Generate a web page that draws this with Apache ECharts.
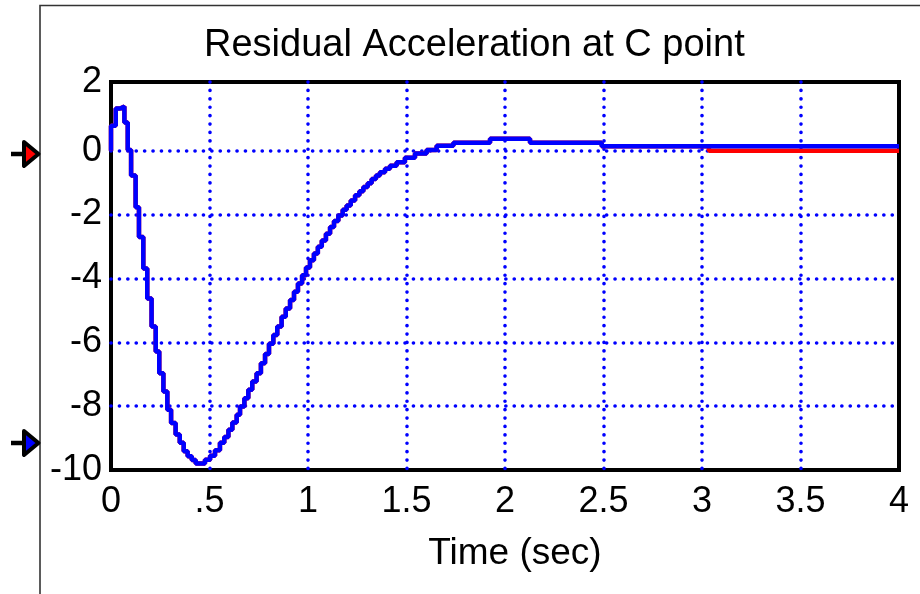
<!DOCTYPE html>
<html><head><meta charset="utf-8">
<script src="https://cdn.jsdelivr.net/npm/echarts@6/dist/echarts.min.js"></script>
<style>html,body{margin:0;padding:0;background:#fff}#c{width:920px;height:594px}</style>
</head><body><div id="c"></div>
<script>
const titleText = 'Residual Acceleration at C point';
const xName = 'Time (sec)';
const xTicks = [0, 0.5, 1, 1.5, 2, 2.5, 3, 3.5, 4];
const xTickLabels = ['0', '.5', '1', '1.5', '2', '2.5', '3', '3.5', '4'];
const yTicks = [-10, -8, -6, -4, -2, 0, 2];
const yTickLabels = ['-10', '-8', '-6', '-4', '-2', '0', '2'];

// blue signal (zero-order hold steps)
const times = [0, 0, 0.024, 0.046, 0.068, 0.085, 0.102, 0.125, 0.142, 0.164, 0.184,
  0.206, 0.227, 0.245, 0.266, 0.286, 0.305, 0.328, 0.349, 0.369, 0.389,
  0.410, 0.430, 0.477, 0.503, 0.528, 0.553, 0.575, 0.596, 0.616, 0.638,
  0.655, 0.677, 0.697, 0.717, 0.739, 0.761, 0.782, 0.802, 0.824, 0.844,
  0.866, 0.887, 0.909, 0.929, 0.949, 0.970, 0.990, 1.010, 1.030, 1.050,
  1.070, 1.091, 1.112, 1.132, 1.154, 1.176, 1.196, 1.217, 1.239, 1.261,
  1.281, 1.303, 1.323, 1.345, 1.365, 1.391, 1.416, 1.450, 1.492, 1.543,
  1.602, 1.653, 1.738, 1.924, 2.127, 2.491, 4.000];
const accel = [0, 0.78, 1.32, 1.38, 0.88, 0.02, -0.78, -1.77, -2.70, -3.69, -4.63,
  -5.51, -6.29, -6.97, -7.54, -8.11, -8.53, -8.89, -9.15, -9.41, -9.57,
  -9.69, -9.80, -9.68, -9.55, -9.38, -9.15, -8.97, -8.74, -8.51, -8.27,
  -8.01, -7.75, -7.49, -7.23, -6.97, -6.66, -6.37, -6.05, -5.77, -5.51,
  -5.20, -4.94, -4.68, -4.42, -4.16, -3.90, -3.66, -3.43, -3.22, -3.01,
  -2.81, -2.60, -2.39, -2.20, -2.03, -1.85, -1.72, -1.56, -1.40, -1.27,
  -1.14, -1.02, -0.89, -0.78, -0.68, -0.57, -0.47, -0.36, -0.22, -0.09,
  0.02, 0.15, 0.25, 0.37, 0.25, 0.14, 0.14];
// red signal: follows the blue one, then drops to this value
const redSwitchTime = 3.035;
const redAfter = 0;

const blueData = times.map((t, i) => [t, accel[i]]);
const redData = times.filter(t => t < redSwitchTime).map((t, i) => [t, accel[i]]);
redData.push([redSwitchTime, redAfter], [times[times.length - 1], redAfter]);

const FONT = 'Liberation Sans, Arial, sans-serif';
const dotStyle = { width: 3.6, type: [0.1, 8.3], cap: 'round' };
const B = '#0000ff';

const chart = echarts.init(document.getElementById('c'), null, { renderer: 'canvas' });
chart.setOption({
  animation: false,
  backgroundColor: '#fff',
  title: {
    text: titleText, left: 199, top: 22,
    textStyle: { fontSize: 38, fontWeight: 'normal', fontFamily: FONT, color: '#000' }
  },
  grid: { left: 111, right: 21, top: 82, bottom: 124, show: true, borderColor: '#000', borderWidth: 4, backgroundColor: 'transparent' },
  xAxis: {
    type: 'value', min: 0, max: 4, interval: 0.5,
    name: xName, nameLocation: 'middle', nameGap: 65,
    nameTextStyle: { fontSize: 37, fontFamily: FONT, color: '#000', padding: [0, 0, 0, 20] },
    axisLine: { show: false }, axisTick: { show: false },
    axisLabel: { fontSize: 36, fontFamily: FONT, color: '#000', margin: 14,
      formatter: v => { const i = xTicks.indexOf(v); return i >= 0 ? xTickLabels[i] : ''; } },
    splitLine: { show: true, showMinLine: false, showMaxLine: false, lineStyle: Object.assign({ color: B }, dotStyle) }
  },
  yAxis: {
    type: 'value', min: -10, max: 2.15, interval: 2,
    axisLine: { show: false }, axisTick: { show: false },
    axisLabel: { fontSize: 36, fontFamily: FONT, color: '#000', margin: 9, showMaxLabel: true, showMinLabel: true,
      formatter: v => {
        if (v > yTicks[yTicks.length - 1]) return yTickLabels[yTickLabels.length - 1];
        if (v === yTicks[yTicks.length - 1]) return '';
        const i = yTicks.indexOf(v); return i >= 0 ? yTickLabels[i] : '';
      } },
    splitLine: { show: true, showMinLine: false, showMaxLine: false,
      lineStyle: Object.assign({ color: [B, B, B, B, B, 'rgba(0,0,0,0)'] }, dotStyle) }
  },
  series: [
    { type: 'line', step: 'end', data: redData, showSymbol: false, z: 3,
      lineStyle: { color: '#ff0000', width: 4.5 } },
    { type: 'line', step: 'end', data: blueData, showSymbol: false, z: 4,
      lineStyle: { color: '#0000ff', width: 4.5 } }
  ],
  graphic: [
    { type: 'polyline', shape: { points: [[40, 594], [40, 5.5], [920, 5.5]] }, style: { stroke: '#333', lineWidth: 1.6, fill: null } },
    { type: 'line', shape: { x1: 11, y1: 154, x2: 25, y2: 154 }, style: { stroke: '#000', lineWidth: 4.5 } },
    { type: 'polygon', shape: { points: [[24, 142], [38.5, 154], [24, 166]] }, style: { fill: '#ff0000', stroke: '#000', lineWidth: 4, lineJoin: 'round' } },
    { type: 'line', shape: { x1: 11, y1: 443, x2: 25, y2: 443 }, style: { stroke: '#000', lineWidth: 4.5 } },
    { type: 'polygon', shape: { points: [[24, 431], [38.5, 443], [24, 455]] }, style: { fill: '#0000ff', stroke: '#000', lineWidth: 4, lineJoin: 'round' } }
  ]
});
</script></body></html>
